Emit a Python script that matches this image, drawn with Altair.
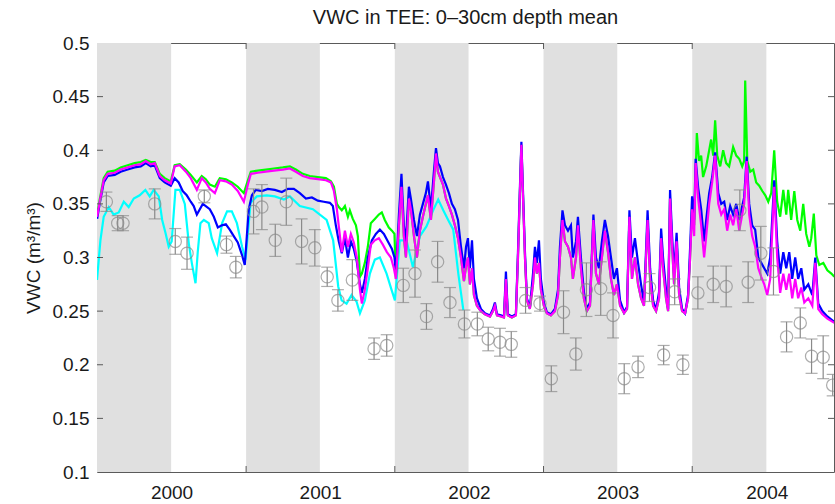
import altair as alt
import pandas as pd

TITLE = "VWC in TEE: 0–30cm depth mean"
Y_TITLE = "VWC (m³/m³)"
YEARS = [2000, 2001, 2002, 2003, 2004]
Y_TICKS = [0.1, 0.15, 0.2, 0.25, 0.3, 0.35, 0.4, 0.45, 0.5]

# (decimal year, VWC)
CYAN = [(2000.000,0.279),(2000.023,0.316),(2000.045,0.338),(2000.079,0.347),(2000.112,0.340),(2000.146,0.342),
        (2000.180,0.352),(2000.213,0.347),(2000.247,0.355),(2000.287,0.358),(2000.325,0.363),(2000.354,0.357),
        (2000.381,0.363),(2000.415,0.357),(2000.438,0.335),(2000.460,0.323),(2000.482,0.310),(2000.502,0.315),
        (2000.527,0.363),(2000.556,0.363),(2000.590,0.350),(2000.617,0.313),(2000.637,0.295),(2000.662,0.276),
        (2000.677,0.305),(2000.695,0.332),(2000.718,0.335),(2000.751,0.332),(2000.771,0.318),(2000.807,0.304),
        (2000.841,0.332),(2000.874,0.343),(2000.906,0.343),(2000.940,0.332),(2000.975,0.310),(2000.998,0.298),
        (2001.032,0.351),(2001.074,0.357),(2001.141,0.358),(2001.195,0.357),(2001.256,0.354),(2001.296,0.357),
        (2001.363,0.348),(2001.451,0.345),(2001.543,0.335),(2001.587,0.316),(2001.621,0.273),(2001.644,0.260),
        (2001.677,0.257),(2001.711,0.265),(2001.744,0.259),(2001.767,0.248),(2001.800,0.260),(2001.834,0.285),
        (2001.867,0.298),(2001.901,0.300),(2001.946,0.285),(2001.979,0.270),(2002.002,0.260),(2002.035,0.316),
        (2002.080,0.316),(2002.123,0.291),(2002.170,0.320),(2002.214,0.329),(2002.259,0.344),(2002.293,0.354),
        (2002.327,0.344),(2002.360,0.335),(2002.394,0.326),(2002.428,0.285),(2002.462,0.251)]

MAGENTA = [(2000.001,0.338),(2000.018,0.352),(2000.045,0.372),(2000.072,0.378),(2000.119,0.379),(2000.159,0.382),
           (2000.206,0.384),(2000.253,0.386),(2000.294,0.387),(2000.328,0.390),(2000.361,0.387),(2000.388,0.388),
           (2000.422,0.376),(2000.455,0.372),(2000.496,0.369),(2000.522,0.385),(2000.556,0.386),(2000.597,0.380),
           (2000.630,0.374),(2000.671,0.363),(2000.704,0.374),(2000.731,0.370),(2000.758,0.364),(2000.792,0.360),
           (2000.825,0.372),(2000.866,0.371),(2000.906,0.368),(2000.946,0.362),(2000.987,0.352),(2001.014,0.368),
           (2001.034,0.378),(2001.081,0.379),(2001.135,0.380),(2001.189,0.381),(2001.249,0.382),(2001.296,0.383),
           (2001.336,0.380),(2001.383,0.376),(2001.430,0.374),(2001.484,0.373),(2001.538,0.372),(2001.572,0.370),
           (2001.592,0.362),(2001.612,0.345),(2001.625,0.329),(2001.645,0.305),(2001.666,0.325),(2001.686,0.310),
           (2001.706,0.322),(2001.726,0.314),(2001.746,0.300),(2001.767,0.270),(2001.780,0.257),(2001.800,0.270),
           (2001.820,0.290),(2001.840,0.312),(2001.867,0.316),(2001.894,0.318),(2001.921,0.312),(2001.948,0.305),
           (2001.975,0.300),(2001.995,0.290),
           (2002.009,0.280),(2002.029,0.330),(2002.046,0.366),(2002.062,0.320),(2002.076,0.300),(2002.096,0.355),
           (2002.109,0.345),(2002.130,0.320),(2002.150,0.300),(2002.170,0.325),(2002.190,0.338),(2002.210,0.350),
           (2002.224,0.358),(2002.244,0.335),(2002.264,0.370),(2002.278,0.397),(2002.291,0.380),(2002.305,0.375),
           (2002.325,0.368),(2002.345,0.355),(2002.365,0.348),(2002.385,0.340),(2002.405,0.330),(2002.426,0.318),
           (2002.446,0.300),(2002.466,0.278),(2002.480,0.292),(2002.493,0.300),(2002.506,0.275),(2002.520,0.290),
           (2002.533,0.265),(2002.553,0.255),(2002.580,0.250),(2002.607,0.247),(2002.641,0.245),(2002.661,0.250),
           (2002.674,0.255),(2002.688,0.246),(2002.715,0.245),(2002.735,0.244),(2002.748,0.280),(2002.761,0.246),
           (2002.788,0.244),(2002.815,0.246),(2002.829,0.300),(2002.842,0.360),(2002.852,0.405),(2002.862,0.360),
           (2002.876,0.300),(2002.889,0.260),(2002.909,0.252),(2002.930,0.275),(2002.943,0.300),(2002.956,0.285),
           (2002.970,0.295),(2002.983,0.270),(2003.003,0.255),(2003.023,0.248),(2003.050,0.246),(2003.077,0.250),
           (2003.098,0.265),(2003.111,0.300),(2003.128,0.335),(2003.145,0.315),(2003.165,0.310),(2003.185,0.300),
           (2003.198,0.280),(2003.219,0.300),(2003.232,0.330),(2003.252,0.290),(2003.272,0.262),(2003.292,0.250),
           (2003.313,0.255),(2003.336,0.335),(2003.353,0.285),(2003.373,0.275),(2003.393,0.300),(2003.413,0.325),
           (2003.434,0.305),(2003.454,0.280),(2003.474,0.265),(2003.494,0.275),(2003.515,0.255),(2003.542,0.248),
           (2003.562,0.252),(2003.578,0.338),(2003.595,0.280),(2003.615,0.300),(2003.636,0.275),(2003.656,0.262),
           (2003.676,0.255),(2003.700,0.335),(2003.717,0.280),(2003.737,0.255),(2003.757,0.250),(2003.777,0.262),
           (2003.791,0.318),(2003.804,0.290),(2003.824,0.262),(2003.838,0.250),(2003.851,0.355),(2003.865,0.310),
           (2003.878,0.275),(2003.895,0.315),(2003.912,0.265),(2003.932,0.250),(2003.952,0.248),(2003.972,0.262),
           (2003.986,0.300),(2003.999,0.345),(2004.013,0.320),(2004.023,0.388),(2004.040,0.355),(2004.060,0.330),
           (2004.080,0.300),(2004.094,0.320),(2004.114,0.350),(2004.134,0.370),(2004.154,0.395),(2004.175,0.350),
           (2004.195,0.340),(2004.215,0.345),(2004.235,0.325),(2004.255,0.340),(2004.275,0.330),(2004.296,0.345),
           (2004.316,0.325),(2004.336,0.340),(2004.349,0.350),(2004.366,0.390),(2004.383,0.340),(2004.403,0.320),
           (2004.423,0.310),(2004.444,0.290),(2004.464,0.282),(2004.484,0.275),(2004.504,0.265),(2004.524,0.280),
           (2004.551,0.366),(2004.571,0.300),(2004.591,0.267),(2004.612,0.285),(2004.632,0.270),(2004.652,0.285),
           (2004.672,0.262),(2004.692,0.280),(2004.712,0.262),(2004.733,0.272),(2004.753,0.258),(2004.780,0.262),
           (2004.807,0.255),(2004.827,0.295),(2004.847,0.252),(2004.874,0.247),(2004.908,0.243),(2004.955,0.239)]

BLUE = [(2000.001,0.336),(2000.018,0.350),(2000.045,0.370),(2000.072,0.376),(2000.119,0.377),(2000.159,0.380),
        (2000.206,0.382),(2000.253,0.384),(2000.294,0.385),(2000.328,0.388),(2000.361,0.385),(2000.388,0.386),
        (2000.422,0.374),(2000.455,0.370),(2000.496,0.367),(2000.522,0.374),(2000.549,0.370),(2000.576,0.362),
        (2000.603,0.358),(2000.630,0.352),(2000.650,0.348),(2000.671,0.340),(2000.691,0.345),(2000.711,0.350),
        (2000.731,0.348),(2000.758,0.345),(2000.785,0.338),(2000.812,0.328),(2000.839,0.330),(2000.866,0.331),
        (2000.892,0.326),(2000.919,0.320),(2000.946,0.314),(2000.973,0.303),(2000.993,0.293),(2001.007,0.320),
        (2001.020,0.345),(2001.041,0.358),(2001.067,0.363),(2001.108,0.362),(2001.148,0.364),(2001.195,0.363),
        (2001.242,0.361),(2001.283,0.364),(2001.323,0.364),(2001.363,0.360),(2001.404,0.355),(2001.444,0.356),
        (2001.484,0.353),(2001.524,0.352),(2001.565,0.351),(2001.585,0.348),(2001.605,0.330),(2001.625,0.315),
        (2001.645,0.304),(2001.666,0.318),(2001.686,0.300),(2001.706,0.315),(2001.726,0.308),(2001.746,0.296),
        (2001.767,0.275),(2001.780,0.267),(2001.800,0.280),(2001.820,0.300),(2001.847,0.316),(2001.874,0.322),
        (2001.901,0.326),(2001.928,0.322),(2001.955,0.315),(2001.982,0.308),(2001.999,0.300),
        (2002.009,0.285),(2002.029,0.340),(2002.046,0.378),(2002.062,0.330),(2002.076,0.315),(2002.096,0.366),
        (2002.109,0.355),(2002.130,0.335),(2002.150,0.320),(2002.170,0.340),(2002.190,0.350),(2002.210,0.360),
        (2002.224,0.371),(2002.244,0.345),(2002.264,0.380),(2002.278,0.402),(2002.291,0.388),(2002.305,0.385),
        (2002.325,0.375),(2002.345,0.368),(2002.365,0.360),(2002.385,0.350),(2002.405,0.345),(2002.426,0.335),
        (2002.446,0.310),(2002.466,0.290),(2002.480,0.310),(2002.493,0.318),(2002.506,0.290),(2002.520,0.316),
        (2002.533,0.280),(2002.553,0.262),(2002.580,0.252),(2002.607,0.248),(2002.641,0.246),(2002.661,0.252),
        (2002.674,0.258),(2002.688,0.247),(2002.715,0.246),(2002.735,0.245),(2002.748,0.287),(2002.761,0.247),
        (2002.788,0.245),(2002.815,0.247),(2002.829,0.305),(2002.842,0.365),(2002.852,0.408),(2002.862,0.365),
        (2002.876,0.305),(2002.889,0.262),(2002.909,0.253),(2002.930,0.285),(2002.943,0.310),(2002.956,0.295),
        (2002.970,0.316),(2002.983,0.280),(2003.003,0.258),(2003.023,0.249),(2003.050,0.247),(2003.077,0.252),
        (2003.098,0.270),(2003.111,0.310),(2003.128,0.344),(2003.145,0.330),(2003.165,0.325),(2003.185,0.330),
        (2003.198,0.300),(2003.219,0.315),(2003.232,0.338),(2003.252,0.300),(2003.272,0.268),(2003.292,0.252),
        (2003.313,0.258),(2003.336,0.340),(2003.353,0.300),(2003.373,0.290),(2003.393,0.315),(2003.413,0.335),
        (2003.434,0.320),(2003.454,0.300),(2003.474,0.280),(2003.494,0.290),(2003.515,0.260),(2003.542,0.249),
        (2003.562,0.254),(2003.578,0.344),(2003.595,0.300),(2003.615,0.318),(2003.636,0.295),(2003.656,0.275),
        (2003.676,0.258),(2003.700,0.344),(2003.717,0.290),(2003.737,0.260),(2003.757,0.251),(2003.777,0.268),
        (2003.791,0.327),(2003.804,0.300),(2003.824,0.270),(2003.838,0.252),(2003.851,0.363),(2003.865,0.320),
        (2003.878,0.285),(2003.895,0.323),(2003.912,0.272),(2003.932,0.252),(2003.952,0.248),(2003.972,0.265),
        (2003.986,0.310),(2003.999,0.357),(2004.013,0.335),(2004.023,0.392),(2004.040,0.365),(2004.060,0.345),
        (2004.080,0.315),(2004.094,0.335),(2004.114,0.360),(2004.134,0.375),(2004.154,0.398),(2004.175,0.360),
        (2004.195,0.350),(2004.215,0.352),(2004.235,0.335),(2004.255,0.348),(2004.275,0.340),(2004.296,0.350),
        (2004.316,0.335),(2004.336,0.348),(2004.349,0.356),(2004.366,0.394),(2004.383,0.350),(2004.403,0.330),
        (2004.423,0.326),(2004.444,0.300),(2004.464,0.295),(2004.484,0.290),(2004.504,0.285),(2004.524,0.300),
        (2004.551,0.372),(2004.571,0.315),(2004.591,0.285),(2004.612,0.305),(2004.632,0.290),(2004.652,0.305),
        (2004.672,0.280),(2004.692,0.300),(2004.712,0.280),(2004.733,0.290),(2004.753,0.270),(2004.780,0.275),
        (2004.807,0.265),(2004.827,0.300),(2004.847,0.257),(2004.874,0.250),(2004.908,0.245),(2004.955,0.240)]

GREEN_A = [(2000.001,0.340),(2000.018,0.354),(2000.045,0.374),(2000.072,0.380),(2000.119,0.381),(2000.159,0.384),
           (2000.206,0.386),(2000.253,0.388),(2000.294,0.389),(2000.328,0.391),(2000.361,0.389),(2000.388,0.389),
           (2000.422,0.378),(2000.455,0.374),(2000.496,0.371),(2000.522,0.386),(2000.556,0.387),(2000.597,0.382),
           (2000.630,0.377),(2000.671,0.370),(2000.704,0.376),(2000.731,0.373),(2000.758,0.368),(2000.792,0.366),
           (2000.825,0.374),(2000.866,0.373),(2000.906,0.370),(2000.946,0.366),(2000.987,0.360),(2001.014,0.372),
           (2001.034,0.380),(2001.081,0.381),(2001.135,0.382),(2001.189,0.383),(2001.249,0.384),(2001.296,0.385),
           (2001.336,0.382),(2001.383,0.378),(2001.430,0.376),(2001.484,0.375),(2001.538,0.374),(2001.572,0.371),
           (2001.592,0.366),(2001.612,0.350),(2001.625,0.347),(2001.645,0.344),(2001.666,0.348),(2001.686,0.338),
           (2001.699,0.344),(2001.719,0.336),(2001.740,0.330),(2001.753,0.320),(2001.767,0.282),(2001.780,0.285),
           (2001.800,0.295),(2001.820,0.310),(2001.840,0.332),(2001.867,0.336),(2001.894,0.340),(2001.914,0.342),
           (2001.934,0.335),(2001.961,0.328),(2001.982,0.325),(2001.999,0.322)]

GREEN_B = [(2003.986,0.300),(2003.999,0.345),(2004.013,0.330),(2004.031,0.416),(2004.046,0.390),(2004.060,0.395),
           (2004.073,0.375),(2004.094,0.385),(2004.114,0.400),(2004.127,0.410),(2004.141,0.395),(2004.154,0.428),
           (2004.168,0.395),(2004.188,0.385),(2004.208,0.400),(2004.228,0.388),(2004.248,0.385),(2004.275,0.403),
           (2004.296,0.395),(2004.316,0.392),(2004.336,0.385),(2004.349,0.390),(2004.356,0.465),(2004.370,0.390),
           (2004.390,0.380),(2004.410,0.382),(2004.430,0.370),(2004.450,0.367),(2004.471,0.362),(2004.491,0.358),
           (2004.511,0.352),(2004.531,0.360),(2004.551,0.400),(2004.571,0.352),(2004.591,0.338),(2004.612,0.363),
           (2004.632,0.340),(2004.645,0.363),(2004.665,0.335),(2004.686,0.362),(2004.706,0.335),(2004.726,0.325),
           (2004.746,0.350),(2004.766,0.322),(2004.787,0.310),(2004.800,0.318),(2004.817,0.341),(2004.834,0.302),
           (2004.854,0.293),(2004.881,0.295),(2004.908,0.288),(2004.935,0.285),(2004.955,0.282)]

# observations: decimal year, mean, half error bar
OBS_T = [2000.063,2000.139,2000.175,2000.388,2000.526,2000.605,2000.721,2000.870,2000.933,2001.052,2001.108,
         2001.198,2001.272,2001.375,2001.464,2001.547,2001.619,2001.716,2001.862,2001.947,2002.058,2002.137,
         2002.214,2002.289,2002.372,2002.469,2002.556,2002.629,2002.708,2002.784,2002.880,2002.977,2003.053,
         2003.135,2003.218,2003.289,2003.385,2003.468,2003.543,2003.636,2003.713,2003.808,2003.882,2003.937,
         2004.038,2004.141,2004.228,2004.320,2004.376,2004.461,2004.546,2004.634,2004.726,2004.802,2004.880,
         2004.944]
OBS_V = [0.352,0.332,0.332,0.350,0.315,0.304,0.357,0.312,0.291,0.343,0.347,0.316,0.352,0.315,0.309,0.282,
         0.260,0.279,0.215,0.218,0.274,0.285,0.245,0.296,0.258,0.238,0.238,0.224,0.221,0.219,0.260,0.257,
         0.187,0.249,0.210,0.270,0.271,0.246,0.187,0.198,0.272,0.209,0.268,0.200,0.267,0.275,0.273,0.344,
         0.277,0.304,0.287,0.226,0.239,0.208,0.207,0.181]
OBS_E = [0.009,0.007,0.007,0.014,0.012,0.015,0.006,0.008,0.010,0.021,0.021,0.015,0.022,0.021,0.017,0.009,
         0.010,0.019,0.010,0.010,0.016,0.022,0.012,0.019,0.014,0.013,0.011,0.011,0.013,0.012,0.012,0.007,
         0.012,0.020,0.015,0.025,0.025,0.021,0.014,0.010,0.013,0.009,0.012,0.009,0.015,0.017,0.019,0.019,
         0.019,0.025,0.022,0.014,0.014,0.016,0.020,0.010]

GREEN = GREEN_A + [p for p in MAGENTA if 2002.0 < p[0] < 2003.98] + GREEN_B

W, H = 737, 429
FONT = "Liberation Sans"
FRAME = "#5a5a5a"
TXT = "#1a1a1a"
GRAY = "#8a8a8a"
BASE = pd.Timestamp("2000-01-01")


def to_dates(ts):
    return [BASE + pd.Timedelta(days=(t - 2000.0) * 365.25) for t in ts]


def line_df(pairs):
    return pd.DataFrame({"date": to_dates([p[0] for p in pairs]), "vwc": [p[1] for p in pairs]})


xs = alt.Scale(domain=[alt.DateTime(year=2000, month=1, date=1), alt.DateTime(year=2004, month=12, date=14)])
ys = alt.Scale(domain=[0.1, 0.5], nice=False, zero=False)

X_AXIS = alt.Axis(values=[alt.DateTime(year=y, month=7, date=2) for y in YEARS], format="%Y", title=None,
                  ticks=False, domain=False, grid=False, labelPadding=11,
                  labelFont=FONT, labelFontSize=19, labelColor=TXT)
Y_AXIS = alt.Axis(values=Y_TICKS, labelExpr="format(datum.value, '.2~f')", title=Y_TITLE,
                  ticks=False, domain=False, grid=False, labelPadding=8,
                  labelFont=FONT, labelFontSize=19, labelColor=TXT,
                  titleFont=FONT, titleFontSize=19, titleFontWeight="normal",
                  titleColor=TXT, titlePadding=9)


def X(field):
    return alt.X(field, scale=xs, axis=X_AXIS, title=None)


def Y(field):
    return alt.Y(field, scale=ys, axis=Y_AXIS, title=Y_TITLE)


bands = pd.DataFrame({"start": [pd.Timestamp(y, 1, 1) for y in YEARS],
                      "end": [pd.Timestamp(y, 7, 1) for y in YEARS]})
band_layer = alt.Chart(bands).mark_rect(color="#e0e0e0").encode(
    x=X("start:T"), x2="end:T", y=alt.value(0), y2=alt.value(H))


def line_layer(pairs, color):
    return alt.Chart(line_df(pairs)).mark_line(color=color, strokeWidth=2.2, clip=True).encode(
        x=X("date:T"), y=Y("vwc:Q"))


obs = pd.DataFrame({"date": to_dates(OBS_T), "vwc": OBS_V, "err": OBS_E})
obs["lo"] = obs["vwc"] - obs["err"]
obs["hi"] = obs["vwc"] + obs["err"]

obs_base = alt.Chart(obs)
err_rule = obs_base.mark_rule(color=GRAY, strokeWidth=1.2, clip=True).encode(
    x=X("date:T"), y=Y("lo:Q"), y2="hi:Q")
cap_lo = obs_base.mark_tick(color=GRAY, orient="horizontal", size=12, thickness=1.2, clip=True).encode(
    x=X("date:T"), y=Y("lo:Q"))
cap_hi = obs_base.mark_tick(color=GRAY, orient="horizontal", size=12, thickness=1.2, clip=True).encode(
    x=X("date:T"), y=Y("hi:Q"))
circles = obs_base.mark_point(shape="circle", filled=False, size=150, strokeWidth=1.2, color=GRAY,
                              clip=True).encode(x=X("date:T"), y=Y("vwc:Q"))

ytick = pd.DataFrame({"v": Y_TICKS[1:-1]})
xtick = pd.DataFrame({"d": [pd.Timestamp(y, 1, 1) for y in YEARS[1:]]})
tick_left = alt.Chart(ytick).mark_rule(color=FRAME, strokeWidth=1).encode(
    y=Y("v:Q"), x=alt.value(0), x2=alt.value(6))
tick_right = alt.Chart(ytick).mark_rule(color=FRAME, strokeWidth=1).encode(
    y=Y("v:Q"), x=alt.value(W - 6), x2=alt.value(W))
tick_bottom = alt.Chart(xtick).mark_rule(color=FRAME, strokeWidth=1).encode(
    x=X("d:T"), y=alt.value(H - 6), y2=alt.value(H))
tick_top = alt.Chart(xtick).mark_rule(color=FRAME, strokeWidth=1).encode(
    x=X("d:T"), y=alt.value(0), y2=alt.value(6))

chart = alt.layer(
    band_layer,
    line_layer(CYAN, "#00ffff"),
    line_layer(GREEN, "#00ff00"),
    line_layer(BLUE, "#0000ff"),
    line_layer(MAGENTA, "#ff00ff"),
    err_rule, cap_lo, cap_hi, circles,
    tick_left, tick_right, tick_bottom, tick_top,
).properties(
    width=W, height=H,
    title=alt.TitleParams(TITLE, font=FONT, fontSize=20, fontWeight="normal", color=TXT, offset=6, anchor="middle"),
    autosize=alt.AutoSizeParams(type="none"),
    padding={"left": 97, "top": 43, "right": 1, "bottom": 32},
).configure_view(stroke=FRAME, strokeWidth=1)

chart.save("out.html", embed_options={"renderer": "svg", "actions": False})
